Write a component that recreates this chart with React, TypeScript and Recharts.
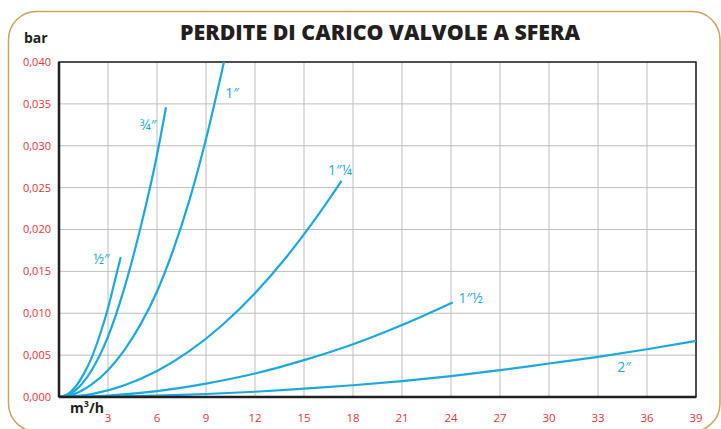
import React from 'react';
import { LineChart, Line, XAxis, YAxis, CartesianGrid, ReferenceArea, ReferenceDot } from 'recharts';

// ---- data ----
const X_TICKS = [3, 6, 9, 12, 15, 18, 21, 24, 27, 30, 33, 36, 39];
const Y_TICKS = [0, 0.005, 0.01, 0.015, 0.02, 0.025, 0.03, 0.035, 0.04];
const Y_TICK_LABELS = ['0,000', '0,005', '0,010', '0,015', '0,020', '0,025', '0,030', '0,035', '0,040'];

const halfX = [0, 0.5, 1, 1.5, 2, 2.5, 3, 3.5, 3.78];
const halfY = [0, 0.0003, 0.0012, 0.0027, 0.0047, 0.0074, 0.0106, 0.0145, 0.0167];

const threeQX = [0, 1, 2, 3, 4, 5, 6, 6.55];
const threeQY = [0, 0.0008, 0.0032, 0.0072, 0.013, 0.0203, 0.0289, 0.0346];

const oneX = [0, 1, 2, 3, 4, 5, 6, 7, 8, 9, 10.1];
const oneY = [0, 0.0004, 0.0015, 0.0032, 0.0056, 0.0087, 0.0126, 0.0176, 0.0236, 0.0308, 0.04];

const oneQX = [0, 2, 4, 6, 8, 10, 12, 14, 16, 17.3];
const oneQY = [0, 0.00035, 0.0014, 0.0031, 0.0055, 0.0086, 0.0124, 0.0169, 0.0221, 0.0258];

const oneHX = [0, 3, 6, 9, 12, 15, 18, 21, 24.1];
const oneHY = [0, 0.00018, 0.0007, 0.0016, 0.0028, 0.0044, 0.0063, 0.0086, 0.0113];

const twoX = [0, 3, 6, 9, 12, 15, 18, 21, 24, 27, 30, 33, 36, 39];
const twoY = [0, 0.00004, 0.00016, 0.00036, 0.00063, 0.001, 0.0014, 0.0019, 0.0025, 0.0032, 0.004, 0.0048, 0.0057, 0.0067];

const LABEL_TEXT = ['½″', '¾″', '1″', '1″¼', '1″½', '2″'];
const LABEL_X = [2.6, 5.45, 10.6, 17.2, 25.2, 34.6];
const LABEL_Y = [0.0165, 0.0325, 0.0363, 0.0271, 0.0118, 0.0036];

const pts = (xs: number[], ys: number[]) => xs.map((x, i) => ({ x, y: ys[i] }));
const SERIES = [
  pts(halfX, halfY),
  pts(threeQX, threeQY),
  pts(oneX, oneY),
  pts(oneQX, oneQY),
  pts(oneHX, oneHY),
  pts(twoX, twoY),
];

const BLUE = '#1ba9e1';
const RED = '#ec3237';
const DARK = '#231f20';
const FONT = '"Open Sans", "Noto Sans", sans-serif';

export default function App() {
  return (
    <div style={{ position: 'absolute', left: 0, top: 0, width: 721, height: 429, overflow: 'hidden', background: '#fff', fontFamily: FONT }}>
      <svg width={721} height={429} style={{ position: 'absolute', left: 0, top: 0 }}>
        <rect x={8.5} y={11.5} width={711.5} height={420} rx={28} ry={28} fill="none" stroke="#c6a55c" strokeWidth={1.5} />
      </svg>
      <div style={{ position: 'absolute', left: 0, top: 0 }}>
        <LineChart width={721} height={429} margin={{ top: 62, right: 25, bottom: 0, left: 0 }}>
          <CartesianGrid stroke="#bdbdbd" strokeWidth={1} horizontalValues={Y_TICKS} verticalValues={X_TICKS} />
          <XAxis
            type="number"
            dataKey="x"
            domain={[0, 39]}
            ticks={X_TICKS}
            allowDataOverflow
            height={32}
            tickLine={false}
            tickMargin={11}
            axisLine={{ stroke: DARK, strokeWidth: 2.5 }}
            tick={{ fill: RED, fontSize: 11.5, fontFamily: FONT }}
          />
          <YAxis
            type="number"
            dataKey="y"
            domain={[0, 0.04]}
            ticks={Y_TICKS}
            allowDataOverflow
            width={59}
            tickLine={false}
            axisLine={{ stroke: DARK, strokeWidth: 2.5 }}
            tick={{ fill: RED, fontSize: 11, fontFamily: FONT }}
            tickFormatter={(v: number) => Y_TICK_LABELS[Y_TICKS.findIndex((t) => Math.abs(t - v) < 1e-9)] ?? ''}
          />
          <ReferenceArea x1={0} x2={39} y1={0} y2={0.04} fill="none" stroke={DARK} strokeWidth={1.5} ifOverflow="visible" />
          {SERIES.map((d, i) => (
            <Line
              key={i}
              data={d}
              dataKey="y"
              type="monotone"
              stroke={BLUE}
              strokeWidth={2.2}
              dot={false}
              activeDot={false}
              isAnimationActive={false}
            />
          ))}
          {LABEL_TEXT.map((t, i) => (
            <ReferenceDot
              key={'l' + i}
              x={LABEL_X[i]}
              y={LABEL_Y[i]}
              r={0}
              fill="none"
              stroke="none"
              ifOverflow="visible"
              label={{ value: t, position: 'center', fill: BLUE, fontSize: 14, fontFamily: FONT }}
            />
          ))}
        </LineChart>
      </div>
      <svg width={721} height={429} style={{ position: 'absolute', left: 0, top: 0, pointerEvents: 'none' }}>
        <text x={380} y={40} textAnchor="middle" fontSize={21} fontWeight={800} fill={DARK} fontFamily={FONT} textLength={400} lengthAdjust="spacingAndGlyphs">
          PERDITE DI CARICO VALVOLE A SFERA
        </text>
        <text x={24} y={43} fontSize={14} fontWeight={700} fill={DARK} fontFamily={FONT}>
          bar
        </text>
        <text x={70} y={413} fontSize={14} fontWeight={700} fill={DARK} fontFamily={FONT}>
          m<tspan fontSize={9} dy={-6}>3</tspan>
          <tspan dy={6}>/h</tspan>
        </text>
      </svg>
    </div>
  );
}
